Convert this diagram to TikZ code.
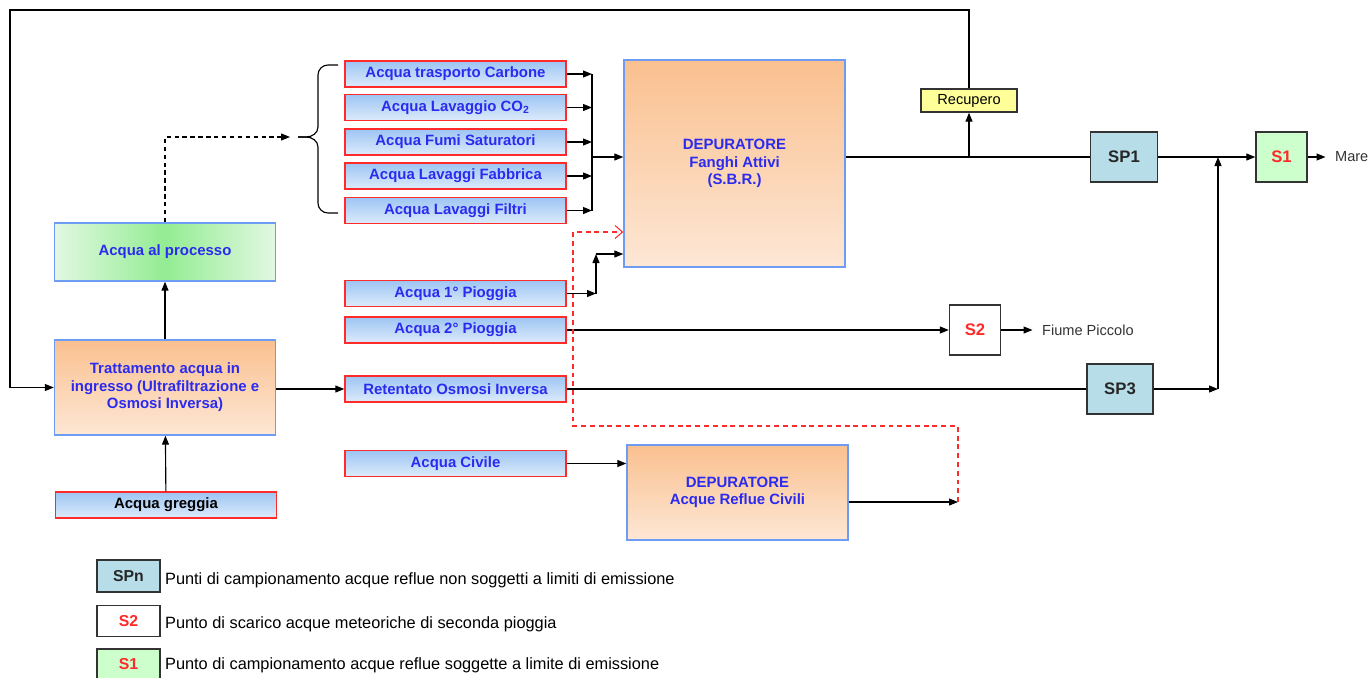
\documentclass[tikz,border=0pt]{standalone}
\usepackage{fontspec}
\setmainfont{Liberation Sans}
\usetikzlibrary{arrows.meta, positioning}
\definecolor{wblue}{HTML}{2B2BF0}
\definecolor{wred}{HTML}{FF2A2A}
\definecolor{skytop}{HTML}{9DC5F3}
\definecolor{skybot}{HTML}{DDEBFB}
\definecolor{peachtop}{HTML}{FAC08F}
\definecolor{peachbot}{HTML}{FDE7D5}
\definecolor{frameblue}{HTML}{6E9CF2}
\definecolor{spblue}{HTML}{B7DDE8}
\definecolor{okgreen}{HTML}{CCFFCC}
\definecolor{recyellow}{HTML}{FFFF99}
\definecolor{midgreen}{HTML}{93EC93}
\definecolor{palegreen}{HTML}{E2F8E2}
\definecolor{txtgray}{HTML}{333333}
\newcommand{\lblfont}{\fontsize{8.5}{10}\selectfont\bfseries}
\newcommand{\smallfont}{\fontsize{8.3}{10}\selectfont}
\newcommand{\legfont}{\fontsize{9.3}{11}\selectfont}

\begin{document}
\begin{tikzpicture}[x=0.02cm, y=-0.02cm,
  flow/.style={draw=wred, line width=0.8pt, top color=skytop, bottom color=skybot, minimum width=4.42cm, minimum height=0.52cm, inner sep=0pt, font=\lblfont, text=wblue},
  plant/.style={draw=frameblue, line width=0.8pt, top color=peachtop, bottom color=peachbot, minimum width=4.42cm, inner sep=0pt, align=center, font=\lblfont, text=wblue},
  spot/.style={draw=black!80, line width=0.8pt, fill=#1, minimum width=1.02cm, minimum height=1.0cm, inner sep=0pt, text=black!85, font=\fontsize{9.5}{11}\selectfont\bfseries},
  key/.style={spot=#1, minimum width=1.26cm, minimum height=0.62cm, font=\fontsize{9}{10}\selectfont\bfseries},
  lab/.style={font=\smallfont, text=txtgray, inner sep=1pt},
  legtext/.style={font=\legfont, inner sep=1pt},
  arr/.style={-{Triangle[length=1.8mm, width=1.4mm]}, line width=0.65pt},
  rdash/.style={-{Straight Barb[length=1.5mm, width=2.6mm]}, draw=wred, line width=0.6pt, dash pattern=on 2.8pt off 2.2pt},
]
  \useasboundingbox (0,0) rectangle (1372,677);

  % water intake and treatment
  \node[plant, minimum height=1.9cm] (tratt) at (165,387.5) {Trattamento acqua in\\ingresso (Ultrafiltrazione e\\Osmosi Inversa)};
  \node[draw=frameblue, line width=0.8pt, left color=palegreen, right color=palegreen, middle color=midgreen, minimum width=4.42cm, minimum height=1.16cm, font=\lblfont, text=wblue] (proc) at (165,252) {Acqua al processo};
  \node[flow, text=black] (greg) at (166,505) {Acqua greggia};

  % streams
  \node[flow] (c1) at (455.5,74) {Acqua trasporto Carbone};
  \node[flow] (c2) at (455.5,107.5) {Acqua Lavaggio CO\textsubscript{2}};
  \node[flow] (c3) at (455.5,142) {Acqua Fumi Saturatori};
  \node[flow] (c4) at (455.5,176) {Acqua Lavaggi Fabbrica};
  \node[flow] (c5) at (455.5,210.5) {Acqua Lavaggi Filtri};
  \node[flow] (p1) at (455.5,293.5) {Acqua 1° Pioggia};
  \node[flow] (p2) at (455.5,330) {Acqua 2° Pioggia};
  \node[flow] (ro) at (455.5,389) {Retentato Osmosi Inversa};
  \node[flow] (civ) at (455.5,463.5) {Acqua Civile};

  % plants
  \node[plant, minimum height=4.14cm] (sbr) at (734.5,163.5) {DEPURATORE\\Fanghi Attivi\\(S.B.R.)};
  \node[plant, minimum height=1.9cm] (civdep) at (737.5,492.5) {DEPURATORE\\Acque Reflue Civili};

  % outlets
  \node[draw=black!80, line width=0.8pt, fill=recyellow, minimum width=1.92cm, minimum height=0.46cm, inner sep=0pt, font=\smallfont] (rec) at (969,100.5) {Recupero};
  \node[spot=spblue, minimum width=1.34cm] (sp1) at (1124,157) {SP1};
  \node[spot=okgreen, text=wred] (s1) at (1281.5,157) {S1};
  \node[lab, anchor=west] (mare) at (1333,157) {Mare};
  \node[spot=white, text=wred] (s2) at (975,330) {S2};
  \node[lab, anchor=west] (fiume) at (1040,330) {Fiume Piccolo};
  \node[spot=spblue, minimum width=1.32cm] (sp3) at (1120,389) {SP3};

  \coordinate (bus) at (592,157);
  \coordinate (p1up) at (596,254);
  \coordinate (btip) at (290,137);
  \coordinate (j1) at (969,157);
  \coordinate (j3) at (1218,389);
  \coordinate (civout) at (958,502);
  \coordinate (rturn) at (573,232);

  \draw[arr] (greg) -- (tratt);
  \draw[arr] (tratt) -- (proc);
  \draw[arr, dash pattern=on 2.5pt off 2pt] (proc.north) |- (btip);
  % brace
  \draw[line width=0.65pt] (338,65) -- (328,65) to[out=180,in=90] (318,75) -- (318,127) to[out=-90,in=0] (306,137) -- (298,137);
  \draw[line width=0.65pt] (298,137) -- (306,137) to[out=0,in=90] (318,147) -- (318,203) to[out=-90,in=180] (328,213) -- (338,213);
  \draw[arr] (tratt.east |- ro) -- (ro);

  \foreach \n in {c1,c2,c3,c4,c5}
    \draw[arr] (\n.east) -- (\n.east -| bus);
  \draw[line width=0.65pt] (bus |- c1) -- (bus |- c5);
  \draw[arr] (bus) -- (bus -| sbr.west);

  \draw[arr] (p1.east) -- (p1.east -| p1up);
  \draw[arr] (p1.east -| p1up) -- (p1up);
  \draw[arr] (p1up) -- (p1up -| sbr.west);
  \draw[arr] (p2) -- (s2);
  \draw[arr, shorten >=1.5mm] (s2) -- (fiume);
  \draw[line width=0.65pt] (ro) -- (sp3);
  \draw[arr] (sp3) -- (j3);
  \draw[arr] (j3) -- (j3 |- s1);

  \draw[line width=0.65pt] (sbr.east |- sp1) -- (sp1);
  \draw[arr] (j1) -- (rec);
  \draw[arr] (rec.north) |- (10,10) |- (tratt.west);
  \draw[arr] (sp1) -- (s1);
  \draw[arr, shorten >=1.5mm] (s1) -- (mare);

  \draw[arr] (civ) -- (civ -| civdep.west);
  \draw[arr] (civdep.east |- civout) -- (civout);
  \draw[rdash] (civout) |- (573,426) -- (rturn) -- (rturn -| sbr.west);

  % legend
  \node[key=spblue, minimum height=0.64cm] (k1) at (128.5,576) {SPn};
  \node[key=white, text=wred] (k2) at (128.5,621) {S2};
  \node[key=okgreen, text=wred, minimum height=0.6cm] (k3) at (128.5,664) {S1};
  \node[legtext, anchor=west] (t1) at (163,580) {Punti di campionamento acque reflue non soggetti a limiti di emissione};
  \node[legtext, anchor=west] (t2) at (163,624) {Punto di scarico acque meteoriche di seconda pioggia};
  \node[legtext, anchor=west] (t3) at (163,665) {Punto di campionamento acque reflue soggette a limite di emissione};
\end{tikzpicture}
\end{document}
